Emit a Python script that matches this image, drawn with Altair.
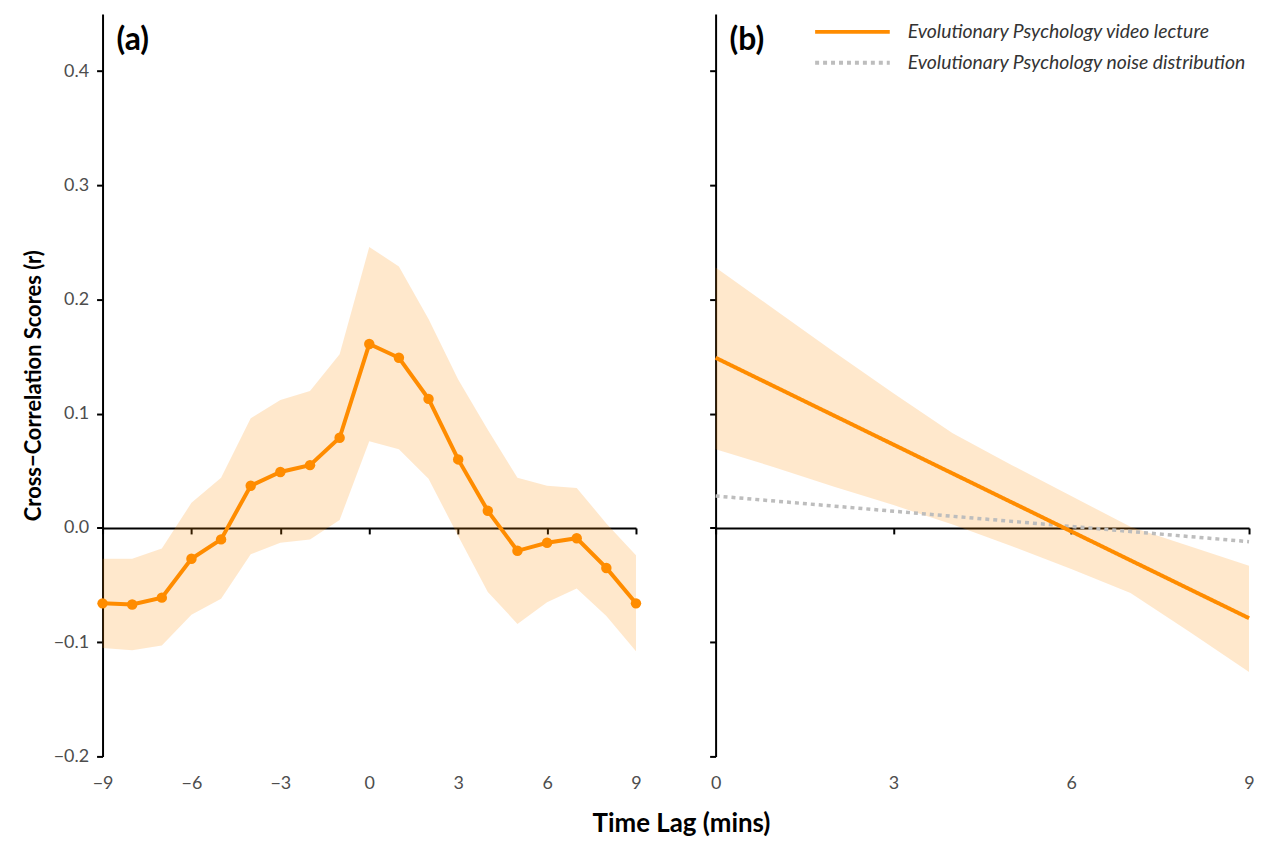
import altair as alt
import pandas as pd

# ---------------- data ----------------
lags_a = [-9, -8, -7, -6, -5, -4, -3, -2, -1, 0, 1, 2, 3, 4, 5, 6, 7, 8, 9]
r_a = [-0.066, -0.067, -0.061, -0.027, -0.010, 0.037, 0.049, 0.055, 0.079,
       0.161, 0.149, 0.113, 0.060, 0.015, -0.020, -0.013, -0.009, -0.035, -0.066]
lo_a = [-0.105, -0.107, -0.103, -0.076, -0.062, -0.023, -0.013, -0.010, 0.007,
        0.076, 0.069, 0.043, -0.007, -0.056, -0.084, -0.065, -0.053, -0.077, -0.108]
hi_a = [-0.027, -0.027, -0.018, 0.022, 0.044, 0.096, 0.112, 0.120, 0.152,
        0.246, 0.229, 0.183, 0.130, 0.086, 0.044, 0.037, 0.035, 0.004, -0.024]

lags_b = [0, 1, 2, 3, 4, 5, 6, 7, 8, 9]
lo_b = [0.069, 0.053, 0.036, 0.020, 0.003, -0.016, -0.036, -0.057, -0.091, -0.126]
hi_b = [0.228, 0.191, 0.154, 0.118, 0.083, 0.055, 0.028, 0.001, -0.016, -0.033]
line_x_b = [0, 9]
video_r_b = [0.149, -0.079]
noise_r_b = [0.028, -0.012]

series = ["Evolutionary Psychology video lecture",
          "Evolutionary Psychology noise distribution"]

x_ticks_a = [-9, -6, -3, 0, 3, 6, 9]
x_ticks_b = [0, 3, 6, 9]
y_ticks = [-0.2, -0.1, 0.0, 0.1, 0.2, 0.3, 0.4]

# ---------------- style ----------------
ORANGE = "#FF8C00"
GREY = "#BDBDBD"
FONT = "Lato"
W, H = 536, 746
YMIN, YMAX = -0.2, 0.45
zero_off = -H * (0 - YMIN) / (YMAX - YMIN)

yscale = alt.Scale(domain=[YMIN, YMAX], nice=False, zero=False)


def xaxis(values):
    return alt.Axis(values=values, format="d", offset=zero_off, labelFlush=False,
                    labelPadding=-zero_off + 12, domainColor="black", domainWidth=2,
                    tickColor="black", tickWidth=2, tickSize=6, labelColor="#4D4D4D",
                    labelFontSize=18, labelFont=FONT, grid=False, title=None)


def yaxis(labels, title):
    kw = dict(values=y_ticks, format=".1f", domainColor="black", domainWidth=2,
              tickColor="black", tickWidth=2, tickSize=6, labelColor="#4D4D4D",
              labelFontSize=18, labelFont=FONT, labelPadding=8, labels=labels,
              grid=False)
    if title:
        kw.update(title=title, titleFont=FONT, titleFontSize=22, titleFontWeight="bold",
                  titleColor="black", titlePadding=8)
    else:
        kw.update(title=None)
    return alt.Axis(**kw)


def panel_label(text, x0):
    return alt.Chart(pd.DataFrame({"t": [text]})).mark_text(
        align="left", baseline="top", font=FONT, fontSize=32, fontWeight="bold",
        color="black", dx=14, dy=11
    ).encode(x=alt.datum(x0), y=alt.datum(YMAX), text="t:N")


# ---------------- panel (a) ----------------
df_a = pd.DataFrame({"lag": lags_a, "r": r_a, "lo": lo_a, "hi": hi_a})
base_a = alt.Chart(df_a).encode(
    x=alt.X("lag:Q", scale=alt.Scale(domain=[-9, 9], nice=False), axis=xaxis(x_ticks_a))
)
band_a = base_a.mark_area(color=ORANGE, opacity=0.2).encode(
    y=alt.Y("lo:Q", scale=yscale, axis=yaxis(True, "Cross−Correlation Scores (r)")),
    y2="hi:Q")
line_a = base_a.mark_line(color=ORANGE, strokeWidth=4).encode(y="r:Q")
pts_a = base_a.mark_circle(color=ORANGE, size=110, opacity=1).encode(y="r:Q")
panel_a = alt.layer(band_a, line_a, pts_a, panel_label("(a)", -9)).properties(width=W, height=H)

# ---------------- panel (b) ----------------
df_b = pd.DataFrame({"lag": lags_b, "lo": lo_b, "hi": hi_b})
df_lines = pd.DataFrame({
    "lag": line_x_b + line_x_b,
    "r": video_r_b + noise_r_b,
    "series": [series[0]] * 2 + [series[1]] * 2,
})
xb = alt.X("lag:Q", scale=alt.Scale(domain=[0, 9], nice=False), axis=xaxis(x_ticks_b))

band_b = alt.Chart(df_b).mark_area(color=ORANGE, opacity=0.2).encode(
    x=xb,
    y=alt.Y("lo:Q", scale=yscale, axis=yaxis(False, None)),
    y2="hi:Q")

leg = alt.Legend(orient="none", legendX=714, legendY=9, title=None,
                 symbolType="stroke", symbolSize=5625, symbolStrokeWidth=4,
                 clipHeight=18, rowPadding=11, labelFont=FONT, labelFontSize=19.5,
                 labelFontStyle="italic", labelColor="#333333", labelOffset=16,
                 labelLimit=500)
color = alt.Color("series:N", scale=alt.Scale(domain=series, range=[ORANGE, GREY]), legend=leg)
dash = alt.StrokeDash("series:N", scale=alt.Scale(domain=series, range=[[1, 0], [4, 4]]), legend=leg)

noise_line = alt.Chart(df_lines).transform_filter(
    alt.datum.series == series[1]
).mark_line(strokeWidth=3.5, strokeCap="butt").encode(x=xb, y=alt.Y("r:Q"), color=color, strokeDash=dash)
video_line = alt.Chart(df_lines).transform_filter(
    alt.datum.series == series[0]
).mark_line(strokeWidth=4).encode(x=xb, y=alt.Y("r:Q"), color=color, strokeDash=dash)

panel_b = alt.layer(band_b, noise_line, video_line, panel_label("(b)", 0)).properties(width=W, height=H)

chart = alt.hconcat(panel_a, panel_b, spacing=64).properties(
    title=alt.TitleParams("Time Lag (mins)", orient="bottom", anchor="middle", font=FONT,
                          fontSize=26, fontWeight="bold", color="black", offset=19, dx=42),
    background="white",
    padding={"left": 14, "top": 4, "right": 0, "bottom": 0},
).configure_view(stroke=None)

chart.save("out.html", embed_options={"renderer": "svg", "actions": False})
